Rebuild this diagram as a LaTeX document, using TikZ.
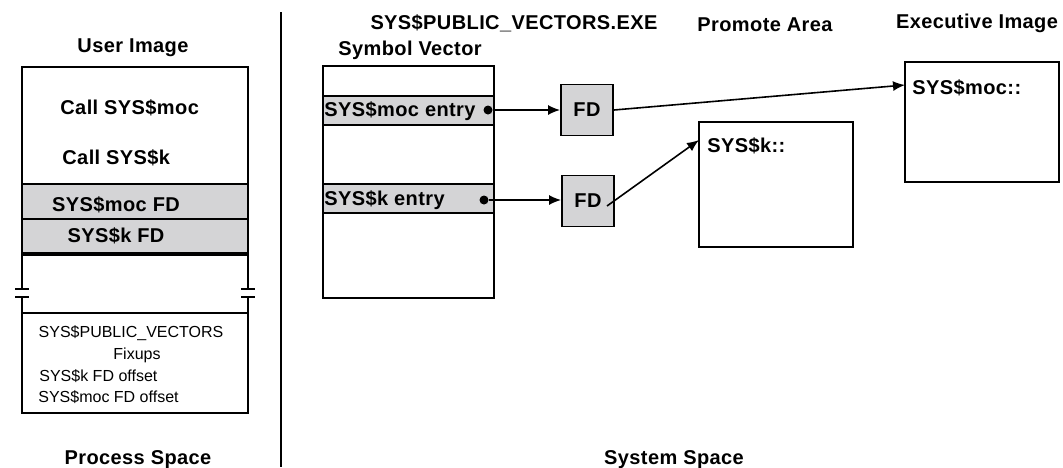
\documentclass[tikz,border=0pt]{standalone}
\usepackage{fontspec}
\setmainfont{Liberation Sans}
\newfontfamily\hdfont[LetterSpace=2]{Liberation Sans}
\usetikzlibrary{arrows.meta}
\definecolor{fdgray}{RGB}{212,212,214}

\begin{document}
\begin{tikzpicture}
  [x=0.5pt, y=-0.5pt,
   hd/.style={font=\hdfont\bfseries\fontsize{10}{12}\selectfont, inner sep=0pt},
   sm/.style={font=\fontsize{8}{9.5}\selectfont, inner sep=0pt},
   band/.style={fill=fdgray, draw, line width=0.9pt},
   fdbox/.style={band, font=\hdfont\bfseries\fontsize{10}{12}\selectfont,
     minimum width=26pt, minimum height=25.5pt, inner sep=0pt},
   ptr/.style={-{Latex[length=6pt,width=5pt]}, line width=0.8pt},
   dot/.style={circle, fill, inner sep=0pt, minimum size=4.5pt}]
  \useasboundingbox (0,0) rectangle (1063,467);
  % process space
  \draw[line width=0.9pt] (22,254) -- (22,67) -- (248,67) -- (248,254);
  \draw[band] (22,184) rectangle (248,219);
  \draw[band] (22,219) rectangle (248,254);
  \draw[line width=1.7pt] (22,254) -- (248,254);
  \foreach \x in {22,248} {
    \draw[line width=0.9pt] (\x,254) -- (\x,289) (\x,297) -- (\x,313);
    \draw[line width=0.9pt] (\x-7,289) -- (\x+7,289) (\x-7,297) -- (\x+7,297);
  }
  \draw[line width=0.9pt] (22,313) rectangle (248,413);
  \node[hd] (usrimg) at (133,48) {User Image};
  \node[hd, anchor=west] (callmoc) at (60,108) {Call SYS\$moc};
  \node[hd, anchor=west] (callk) at (62,158) {Call SYS\$k};
  \node[hd] (mocfd) at (116,205) {SYS\$moc FD};
  \node[hd] (kfd) at (116,236) {SYS\$k FD};
  \node[sm] (fixhd) at (131,333) {SYS\$PUBLIC\_VECTORS};
  \node[sm] (fix) at (137,355) {Fixups};
  \node[sm, anchor=west] (koff) at (39,376) {SYS\$k FD offset};
  \node[sm, anchor=west] (mocoff) at (38,397) {SYS\$moc FD offset};
  \node[hd] (procsp) at (138,460) {Process Space};
  \draw[line width=0.9pt] (281,12) -- (281,467);
  % system space
  \draw[line width=0.9pt] (323,66) rectangle (494,298);
  \draw[band] (323,96) rectangle (494,125);
  \draw[band] (323,184) rectangle (494,213);
  \node[hd] (pvexe) at (514,23) {SYS\$PUBLIC\_VECTORS.EXE};
  \node[hd] (symvec) at (410,50) {Symbol Vector};
  \node[hd, anchor=west] (mocent) at (324,111) {SYS\$moc entry};
  \node[hd, anchor=west] (kent) at (324,200) {SYS\$k entry};
  \node[dot] (mocdot) at (488,110) {};
  \node[dot] (kdot) at (484,200) {};
  \node[fdbox] (fd1) at (587,110) {FD};
  \node[fdbox] (fd2) at (588,201) {FD};
  \draw[line width=0.9pt] (699,122) rectangle (853,247);
  \draw[line width=0.9pt] (905,62) rectangle (1059,182);
  \node[hd] (promo) at (765,25) {Promote Area};
  \node[hd] (exec) at (977,23) {Executive Image};
  \node[hd, anchor=west] (mocsym) at (912,88) {SYS\$moc::};
  \node[hd, anchor=west] (ksym) at (707,146) {SYS\$k::};
  \node[hd] (syssp) at (674,460) {System Space};
  \coordinate (mocin) at (905,85);
  \coordinate (kin) at (699,140);
  \coordinate (fdout) at (607,206);
  \draw[ptr] (mocdot) -- (fd1.west);
  \draw[ptr] (kdot) -- (kdot -| fd2.west);
  \draw[ptr] (fd1.east) -- (mocin);
  \draw[ptr] (fdout) -- (kin);
\end{tikzpicture}
\end{document}
